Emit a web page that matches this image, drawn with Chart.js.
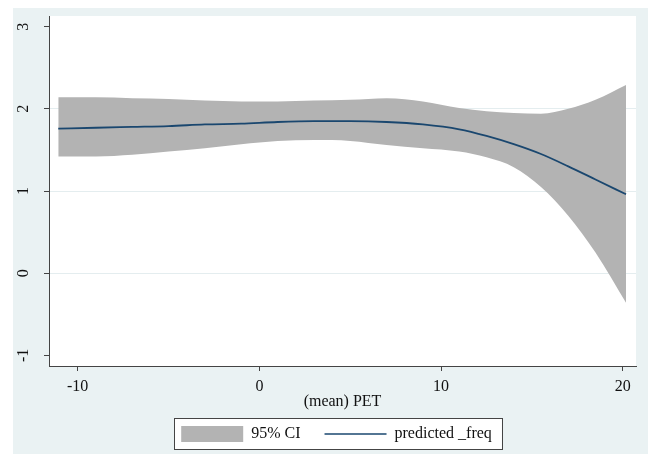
<!DOCTYPE html>
<html>
<head>
<meta charset="utf-8">
<script src="https://cdn.jsdelivr.net/npm/chart.js@4.4.0/dist/chart.umd.min.js"></script>
<style>
  html, body { margin: 0; padding: 0; background: #fff; }
  #wrap { position: absolute; left: 13px; top: 8px; width: 635px; height: 446px; background: #eaf2f3; }
</style>
</head>
<body>
<div id="wrap"><canvas id="c" width="635" height="446"></canvas></div>
<script>
// (mean) PET values along the fitted curve
const petValues = [-11.07, -9, -7, -5, -3, -1, 1, 3, 5, 7, 9, 11, 12.5, 14, 15.5, 17, 18.5, 20.18];
// predicted _freq
const predictedFreq = [1.76, 1.77, 1.78, 1.79, 1.81, 1.82, 1.84, 1.85, 1.85, 1.84, 1.81, 1.75, 1.67, 1.57, 1.45, 1.30, 1.14, 0.96];
// 95% CI bounds
const ciUpper = [2.14, 2.14, 2.13, 2.12, 2.10, 2.09, 2.09, 2.10, 2.11, 2.13, 2.09, 2.01, 1.97, 1.95, 1.94, 2.00, 2.11, 2.29];
const ciLower = [1.42, 1.42, 1.44, 1.48, 1.52, 1.57, 1.61, 1.62, 1.61, 1.56, 1.52, 1.48, 1.41, 1.29, 1.05, 0.70, 0.25, -0.36];

const xTicks = [-10, 0, 10, 20];
const yTicks = [-1, 0, 1, 2, 3];

const serif = { family: "'Liberation Serif', 'DejaVu Serif', serif", size: 16 };
const bandGray = "#b3b3b3";
const navy = "#1a476f";
const axisCol = "#444";
const textCol = "#111";

function toPoints(ys) {
  return petValues.map((x, i) => ({ x: x, y: ys[i] }));
}

// white plot region, boxed legend, rotated y labels (stata look)
const stataFrame = {
  id: "stataFrame",
  beforeDraw(chart) {
    const ctx = chart.ctx;
    const a = chart.chartArea;
    ctx.save();
    ctx.fillStyle = "#fff";
    ctx.fillRect(a.left, a.top, a.right - a.left, a.bottom - a.top);

    const boxes = chart.legend && chart.legend.legendHitBoxes;
    if (boxes && boxes.length) {
      const left = Math.min(...boxes.map(b => b.left)) - 7;
      const right = Math.max(...boxes.map(b => b.left + b.width)) + 10;
      const top = boxes[0].top - 8;
      const bottom = boxes[0].top + boxes[0].height + 7;
      ctx.fillRect(left, top, right - left, bottom - top);
      ctx.strokeStyle = axisCol;
      ctx.lineWidth = 1;
      ctx.strokeRect(Math.round(left) + 0.5, Math.round(top) + 0.5, Math.round(right - left), Math.round(bottom - top));
    }
    ctx.restore();
  },
  afterDraw(chart) {
    const ctx = chart.ctx;
    const ys = chart.scales.y;
    ctx.save();
    ctx.fillStyle = textCol;
    ctx.font = serif.size + "px " + serif.family;
    ctx.textAlign = "center";
    ctx.textBaseline = "middle";
    yTicks.forEach(v => {
      ctx.save();
      ctx.translate(chart.chartArea.left - 25, ys.getPixelForValue(v));
      ctx.rotate(-Math.PI / 2);
      ctx.fillText(String(v), 0, 0);
      ctx.restore();
    });
    ctx.restore();
  }
};

new Chart(document.getElementById("c"), {
  type: "line",
  data: {
    datasets: [
      {
        label: "predicted _freq",
        data: toPoints(predictedFreq),
        borderColor: navy,
        borderWidth: 1.8,
        pointRadius: 0,
        fill: false,
        tension: 0.4,
        cubicInterpolationMode: "monotone"
      },
      {
        label: "95% CI",
        data: toPoints(ciUpper),
        borderWidth: 0,
        borderColor: bandGray,
        backgroundColor: bandGray,
        pointRadius: 0,
        fill: "+1",
        tension: 0.4,
        cubicInterpolationMode: "monotone"
      },
      {
        label: "lower",
        data: toPoints(ciLower),
        borderWidth: 0,
        borderColor: bandGray,
        pointRadius: 0,
        fill: false,
        tension: 0.4,
        cubicInterpolationMode: "monotone"
      }
    ]
  },
  options: {
    responsive: false,
    animation: false,
    layout: { padding: { left: 24, right: 12, top: 8, bottom: 2 } },
    plugins: {
      tooltip: { enabled: false },
      legend: {
        position: "bottom",
        align: "center",
        labels: {
          usePointStyle: true,
          pointStyleWidth: 62,
          boxHeight: 16,
          padding: 24,
          color: textCol,
          font: serif,
          generateLabels: () => [
            { text: "95% CI", fillStyle: bandGray, strokeStyle: bandGray, lineWidth: 0, pointStyle: "rect", fontColor: textCol, datasetIndex: 1, hidden: false },
            { text: "predicted _freq", fillStyle: navy, strokeStyle: navy, lineWidth: 1.5, pointStyle: "line", fontColor: textCol, datasetIndex: 0, hidden: false }
          ]
        }
      }
    },
    scales: {
      x: {
        type: "linear",
        min: -11.58,
        max: 20.73,
        afterBuildTicks: s => { s.ticks = xTicks.map(v => ({ value: v })); },
        afterFit: s => { s.height = 36; },
        grid: { drawOnChartArea: false, tickLength: 5, tickColor: axisCol },
        border: { color: axisCol },
        ticks: { font: serif, color: textCol, padding: 6, maxRotation: 0 },
        title: { display: true, text: "(mean) PET", font: serif, color: textCol, padding: { top: 0, bottom: -9 } }
      },
      y: {
        type: "linear",
        min: -1.13,
        max: 3.13,
        afterBuildTicks: s => { s.ticks = yTicks.map(v => ({ value: v })); },
        afterFit: s => { s.width = 12; },
        grid: {
          color: c => (c.tick && c.tick.value > -1 && c.tick.value < 3) ? "#e4edef" : "rgba(0,0,0,0)",
          tickLength: 5,
          tickColor: axisCol
        },
        border: { color: axisCol },
        ticks: { display: false }
      }
    }
  },
  plugins: [stataFrame]
});
</script>
</body>
</html>
